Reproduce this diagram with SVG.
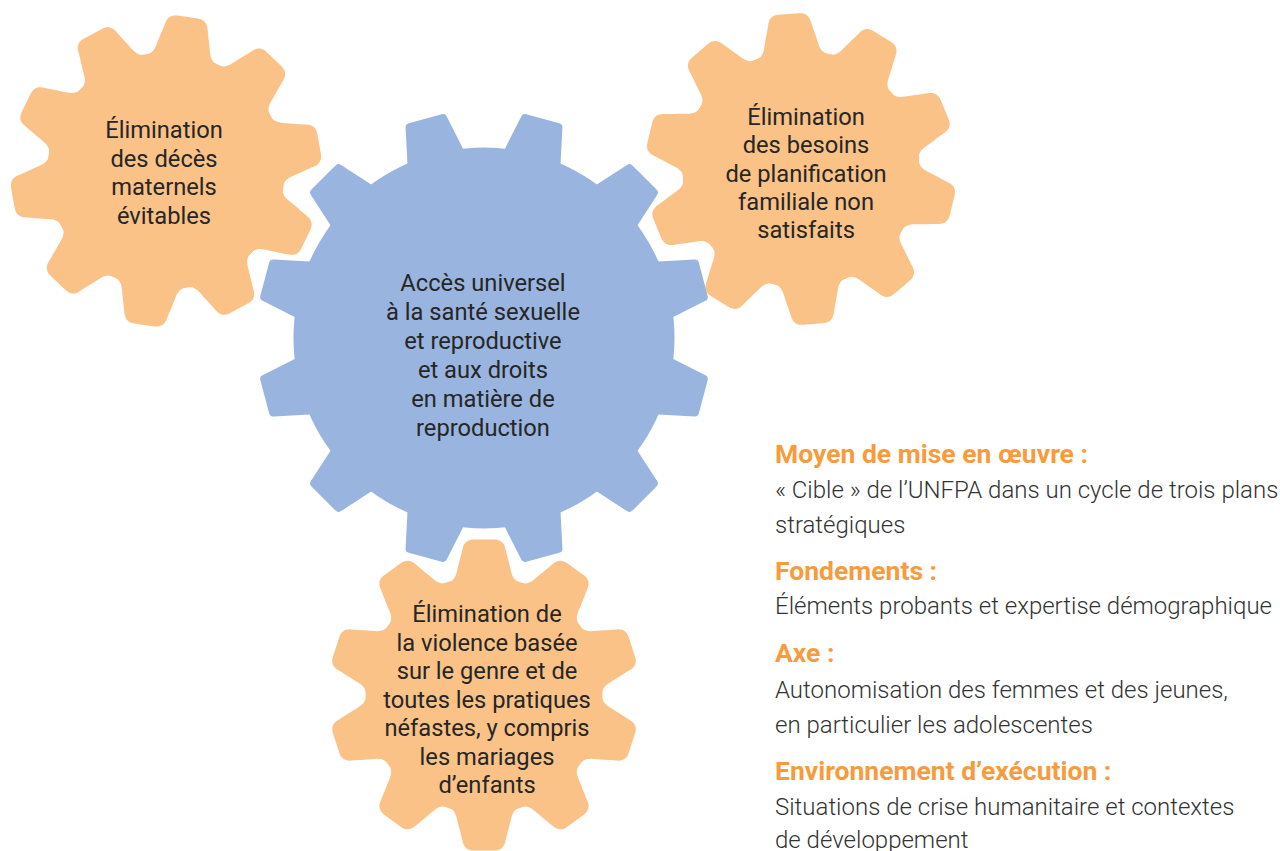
<svg xmlns="http://www.w3.org/2000/svg" xmlns:xlink="http://www.w3.org/1999/xlink" width="1280" height="851" viewBox="0 0 1280 851">
<style>
.orange{fill:#FAC287}
.blue{fill:#99B5DF}
.gt{font-family:Roboto,"Liberation Sans",sans-serif;font-size:23.7px;fill:#262626;text-anchor:middle}
.hd{font-family:Roboto,"Liberation Sans",sans-serif;font-size:26.5px;font-weight:700;fill:#F89B3C}
.bd{font-family:Roboto,"Liberation Sans",sans-serif;font-size:24px;font-weight:300;fill:#333333}
</style>
<defs>
<path id="otooth" d="M -36.5,-112.2 C -31.5,-113.8 -28.5,-117 -27,-124 C -25,-133 -22.5,-141 -21.5,-146 C -20,-153 -16,-155.5 -10,-155.5 L 10,-155.5 C 16,-155.5 20,-153 21.5,-146 C 22.5,-141 25,-133 27,-124 C 28.5,-117 31.5,-113.8 36.5,-112.2 L 0,-60 Z"/>
<path id="btooth" d="M -30,-170 L -28.8,-188.3 L -21.3,-223.5 Q -20.7,-227 -17,-227 L 17,-227 Q 20.7,-227 21.3,-223.5 L 28.8,-188.3 L 30,-170 Z"/>
</defs>

<g id="gear-maternal" class="orange" transform="translate(166,171)">
<circle r="118.5"/>
<use xlink:href="#otooth" transform="rotate(8)"/>
<use xlink:href="#otooth" transform="rotate(44)"/>
<use xlink:href="#otooth" transform="rotate(80)"/>
<use xlink:href="#otooth" transform="rotate(116)"/>
<use xlink:href="#otooth" transform="rotate(152)"/>
<use xlink:href="#otooth" transform="rotate(188)"/>
<use xlink:href="#otooth" transform="rotate(224)"/>
<use xlink:href="#otooth" transform="rotate(260)"/>
<use xlink:href="#otooth" transform="rotate(296)"/>
<use xlink:href="#otooth" transform="rotate(332)"/>
<text class="gt" x="-2" y="-33">Élimination<tspan x="-2" dy="28.5">des décès</tspan><tspan x="-2" dy="28.5">maternels</tspan><tspan x="-2" dy="28.5">évitables</tspan></text>
</g>

<g id="gear-family" class="orange" transform="translate(801,169)">
<circle r="118.5"/>
<use xlink:href="#otooth" transform="rotate(31.5)"/>
<use xlink:href="#otooth" transform="rotate(67.5)"/>
<use xlink:href="#otooth" transform="rotate(103.5)"/>
<use xlink:href="#otooth" transform="rotate(139.5)"/>
<use xlink:href="#otooth" transform="rotate(175.5)"/>
<use xlink:href="#otooth" transform="rotate(211.5)"/>
<use xlink:href="#otooth" transform="rotate(247.5)"/>
<use xlink:href="#otooth" transform="rotate(283.5)"/>
<use xlink:href="#otooth" transform="rotate(319.5)"/>
<use xlink:href="#otooth" transform="rotate(355.5)"/>
<text class="gt" x="5" y="-44">Élimination<tspan x="5" dy="28.3">des besoins</tspan><tspan x="5" dy="28.3">de planification</tspan><tspan x="5" dy="28.3">familiale non</tspan><tspan x="5" dy="28.3">satisfaits</tspan></text>
</g>

<g id="gear-violence" class="orange" transform="translate(484,695)">
<circle r="118.5"/>
<use xlink:href="#otooth" transform="rotate(0)"/>
<use xlink:href="#otooth" transform="rotate(36)"/>
<use xlink:href="#otooth" transform="rotate(72)"/>
<use xlink:href="#otooth" transform="rotate(108)"/>
<use xlink:href="#otooth" transform="rotate(144)"/>
<use xlink:href="#otooth" transform="rotate(180)"/>
<use xlink:href="#otooth" transform="rotate(216)"/>
<use xlink:href="#otooth" transform="rotate(252)"/>
<use xlink:href="#otooth" transform="rotate(288)"/>
<use xlink:href="#otooth" transform="rotate(324)"/>
<text class="gt" x="3" y="-73">Élimination de<tspan x="3" dy="28.5">la violence basée</tspan><tspan x="3" dy="28.5">sur le genre et de</tspan><tspan x="3" dy="28.5">toutes les pratiques</tspan><tspan x="3" dy="28.5">néfastes, y compris</tspan><tspan x="3" dy="28.5">les mariages</tspan><tspan x="3" dy="28.5">d’enfants</tspan></text>
</g>

<g id="gear-center" class="blue" transform="translate(484,338)">
<circle r="190.5"/>
<use xlink:href="#btooth" transform="rotate(15)"/>
<use xlink:href="#btooth" transform="rotate(45)"/>
<use xlink:href="#btooth" transform="rotate(75)"/>
<use xlink:href="#btooth" transform="rotate(105)"/>
<use xlink:href="#btooth" transform="rotate(135)"/>
<use xlink:href="#btooth" transform="rotate(165)"/>
<use xlink:href="#btooth" transform="rotate(195)"/>
<use xlink:href="#btooth" transform="rotate(225)"/>
<use xlink:href="#btooth" transform="rotate(255)"/>
<use xlink:href="#btooth" transform="rotate(285)"/>
<use xlink:href="#btooth" transform="rotate(315)"/>
<use xlink:href="#btooth" transform="rotate(345)"/>
<text class="gt" x="-1" y="-47">Accès universel<tspan x="-1" dy="28.9">à la santé sexuelle</tspan><tspan x="-1" dy="28.9">et reproductive</tspan><tspan x="-1" dy="28.9">et aux droits</tspan><tspan x="-1" dy="28.9">en matière de</tspan><tspan x="-1" dy="28.9">reproduction</tspan></text>
</g>

<g id="connectors"></g>

<g id="legend">
<text class="hd" x="775" y="463">Moyen de mise en œuvre :</text>
<text class="bd" x="775" y="498">« Cible » de l’UNFPA dans un cycle de trois plans</text>
<text class="bd" x="775" y="533">stratégiques</text>
<text class="hd" x="775" y="580">Fondements :</text>
<text class="bd" x="775" y="614">Éléments probants et expertise démographique</text>
<text class="hd" x="775" y="662">Axe :</text>
<text class="bd" x="775" y="698">Autonomisation des femmes et des jeunes,</text>
<text class="bd" x="775" y="733">en particulier les adolescentes</text>
<text class="hd" x="775" y="780">Environnement d’exécution :</text>
<text class="bd" x="775" y="815">Situations de crise humanitaire et contextes</text>
<text class="bd" x="775" y="848">de développement</text>
</g>
</svg>
